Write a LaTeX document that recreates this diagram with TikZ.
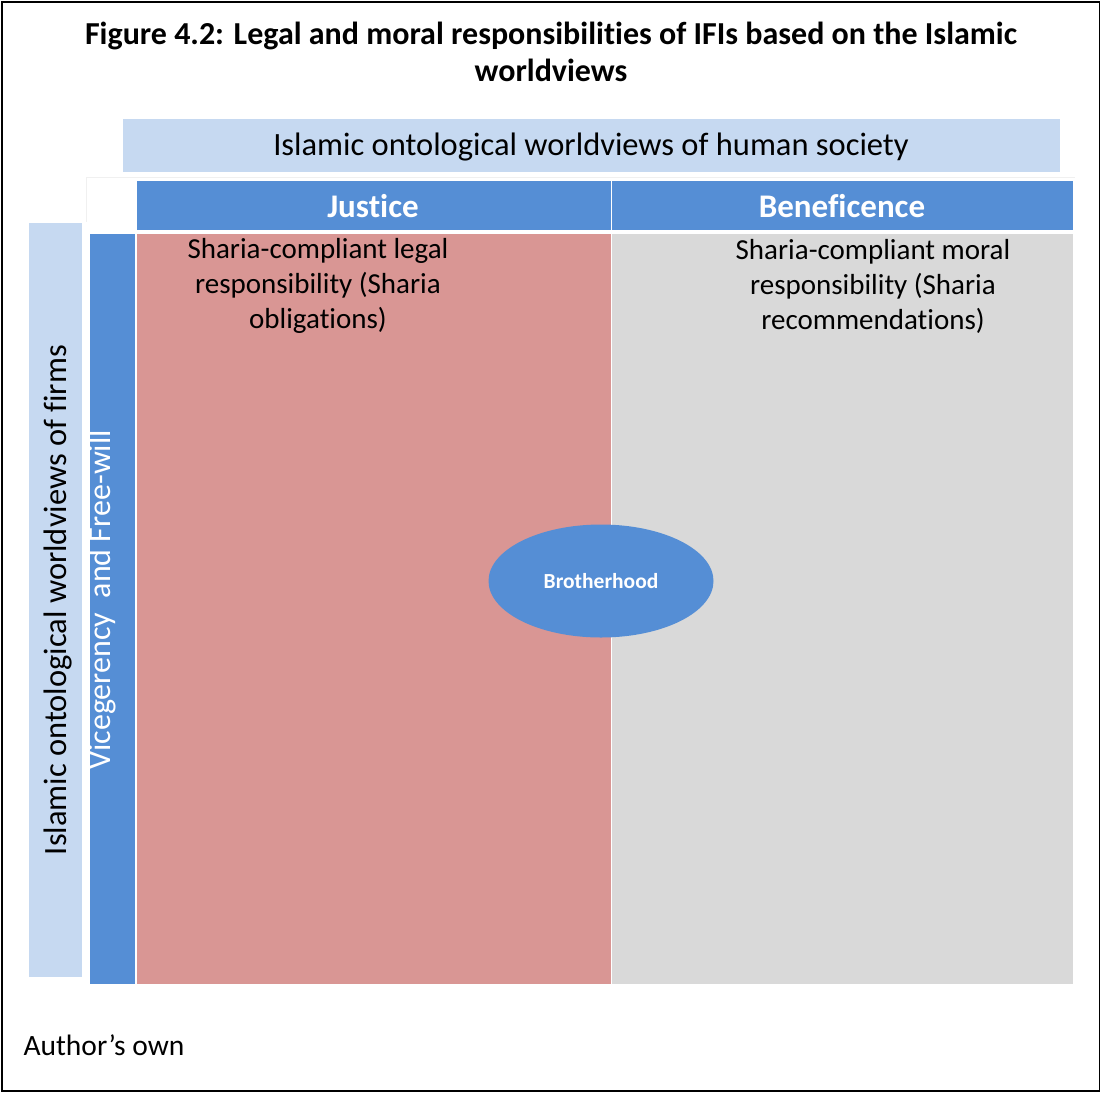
\documentclass[tikz,border=0pt]{standalone}
\usepackage{fontspec}
\setmainfont{Carlito}[Ligatures=NoCommon]
\usetikzlibrary{shapes.geometric}
\definecolor{lightblue}{HTML}{C6D9F1}
\definecolor{darkblue}{HTML}{558ED5}
\definecolor{cellred}{HTML}{D99694}
\definecolor{cellgray}{HTML}{D9D9D9}
\begin{document}
\begin{tikzpicture}[x=1pt,y=-1pt,
  box/.style={draw=white,line width=1.2pt,inner sep=0pt,anchor=north west},
  celltext/.style={align=center,font=\fontsize{29}{35}\selectfont,text=black}]
\useasboundingbox (0,0) rectangle (1102,1093);
\draw[line width=1.5pt] (2,2) rectangle (1099.5,1091);
% title
\node[font=\fontsize{32}{37}\selectfont\bfseries,align=center] (title) at (551,52)
  {Figure 4.2: Legal and moral responsibilities of IFIs based on the Islamic\\worldviews};
% top bar
\node[box,fill=lightblue,minimum width=938pt,minimum height=54pt] (top) at (122,118) {};
\node[font=\fontsize{32.5}{38}\selectfont] (toptext) at (591,147) {Islamic ontological worldviews of human society};
% faint table frame
\draw[black!6,line width=0.8pt] (86,177) -- (1075,177);
\draw[black!6,line width=0.8pt] (86,177) -- (86,222);
% headers
\node[box,fill=darkblue,minimum width=475pt,minimum height=50pt] (jus) at (135.5,179.5) {};
\node[box,fill=darkblue,minimum width=462pt,minimum height=50pt] (ben) at (611,179.5) {};
\node[font=\fontsize{33}{38}\selectfont\bfseries,text=white] (justext) at (373,206) {Justice};
\node[font=\fontsize{33}{38}\selectfont\bfseries,text=white] (bentext) at (842,206) {Beneficence};
% body cells
\node[box,fill=cellred,minimum width=475pt,minimum height=751pt] (red) at (135.5,232.5) {};
\node[box,fill=cellgray,minimum width=462pt,minimum height=751pt] (gray) at (611,232.5) {};
\node[celltext] (legal) at (318,286) {Sharia-compliant legal\\responsibility (Sharia\\obligations)};
\node[celltext] (moral) at (873,286) {Sharia-compliant moral\\responsibility (Sharia\\recommendations)};
% left columns
\node[box,fill=lightblue,minimum width=54pt,minimum height=755pt] (lb) at (27.5,221.5) {};
\node[box,fill=darkblue,minimum width=46pt,minimum height=751pt] (db) at (88.5,232.5) {};
\node[rotate=90,font=\fontsize{32.5}{38}\selectfont] (firms) at (58,600) {Islamic ontological worldviews of firms};
\node[rotate=90,font=\fontsize{32}{36}\selectfont,text=white] (vice) at (102.5,600) {Vicegerency\ \ and Free-will};
% ellipse
\node[ellipse,fill=darkblue,minimum width=225pt,minimum height=113pt,inner sep=0pt,
  font=\fontsize{21.5}{26}\selectfont\bfseries,text=white] (bro) at (601,581) {Brotherhood};
% footer
\node[anchor=west,font=\fontsize{29.5}{34}\selectfont] (author) at (20,1045) {Author’s own};
\end{tikzpicture}
\end{document}
